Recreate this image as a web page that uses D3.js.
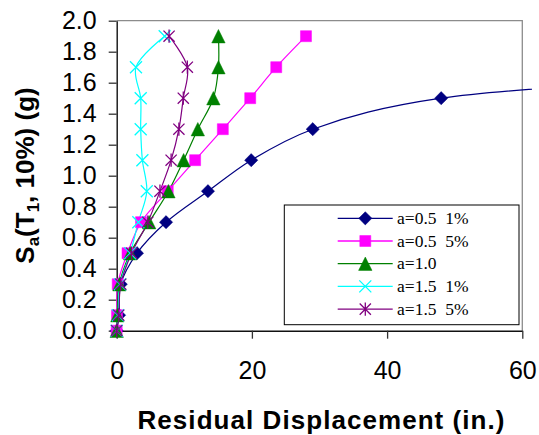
<!DOCTYPE html>
<html><head><meta charset="utf-8">
<script src="https://cdnjs.cloudflare.com/ajax/libs/d3/7.8.5/d3.min.js"></script>
<style>
html,body{margin:0;padding:0;background:#fff;}
svg{display:block;}
</style></head>
<body>
<div id="chart"></div>
<script>
// ---- data ----
const seriesNames = ["a=0.5  1%", "a=0.5  5%", "a=1.0", "a=1.5  1%", "a=1.5  5%"];
const seriesColors = ["#000080", "#FF00FF", "#008000", "#00FFFF", "#800080"];
const seriesMarkers = ["diamond", "square", "triangle", "x", "asterisk"];
const saBlue = [0, 0.1, 0.3, 0.5, 0.7, 0.9, 1.1, 1.3, 1.5, 1.7];
const dispBlue = [0, 0.35, 0.6, 3.0, 7.3, 13.5, 19.9, 29.0, 48.0, 130];
const saAll = [0, 0.1, 0.3, 0.5, 0.7, 0.9, 1.1, 1.3, 1.5, 1.7, 1.9];
const dispMagenta = [0, 0.05, 0.15, 1.6, 3.6, 7.55, 11.6, 15.7, 19.75, 23.6, 28.0];
const dispGreen = [0, 0.1, 0.4, 2.0, 4.8, 7.65, 9.9, 12.0, 14.3, 15.05, 15.05];
const dispCyan = [0, 0.2, 0.5, 2.0, 3.2, 4.45, 3.8, 3.55, 3.55, 2.85, 7.1];
const dispPurple = [0, 0.3, 0.6, 2.2, 4.6, 6.4, 8.05, 9.2, 9.85, 10.45, 7.75];
const xTicks = [0, 20, 40, 60];
const yTicks = [0, 0.2, 0.4, 0.6, 0.8, 1.0, 1.2, 1.4, 1.6, 1.8, 2.0];

const seriesX = [dispBlue, dispMagenta, dispGreen, dispCyan, dispPurple];
const seriesY = [saBlue, saAll, saAll, saAll, saAll];
const series = seriesNames.map((n, i) => ({
  name: n, color: seriesColors[i], marker: seriesMarkers[i],
  pts: seriesX[i].map((x, j) => ({x: x, y: seriesY[i][j]}))
}));

// ---- layout ----
const W = 539, H = 435;
const L = 116.7, R = 522.3, T = 20.7, B = 330.7;
const svg = d3.select("#chart").append("svg").attr("width", W).attr("height", H);
const x = d3.scaleLinear().domain([0, 60]).range([L, R]);
const y = d3.scaleLinear().domain([0, 2.0]).range([B, T]);

// frame (gray top/right)
svg.append("path").attr("d", `M${L},${T}H${R}V${B}`).attr("fill", "none")
  .attr("stroke", "#8c8c8c").attr("stroke-width", 1.3);

// axes
const yAxis = d3.axisLeft(y).tickValues(yTicks).tickFormat(d3.format(".1f"))
  .tickSize(8).tickSizeOuter(0).tickPadding(12);
const xAxis = d3.axisBottom(x).tickValues(xTicks).tickFormat(d3.format("d"))
  .tickSize(8).tickSizeOuter(0).tickPadding(23);
const gy = svg.append("g").attr("transform", `translate(${L},0)`).call(yAxis);
const gx = svg.append("g").attr("transform", `translate(0,${B})`).call(xAxis);
[gx, gy].forEach(g => {
  g.selectAll("path.domain").attr("stroke", "#111").attr("stroke-width", 1.4);
  g.selectAll(".tick line").attr("stroke", "#333").attr("stroke-width", 1.3);
  g.selectAll("text").attr("font-family", "Liberation Sans, Arial, sans-serif")
    .attr("font-size", 25).attr("fill", "#000");
});

// clip
svg.append("clipPath").attr("id", "clip").append("rect")
  .attr("x", 0).attr("y", 0).attr("width", 532).attr("height", H);

const line = d3.line().x(d => x(d.x)).y(d => y(d.y)).curve(d3.curveCatmullRom.alpha(0.5));

function markerPath(type) {
  const p = d3.path();
  if (type === "diamond") { const s = 6.6; p.moveTo(0,-s); p.lineTo(s,0); p.lineTo(0,s); p.lineTo(-s,0); p.closePath(); }
  else if (type === "square") { const s = 5.5; p.rect(-s,-s,2*s,2*s); }
  else if (type === "triangle") { const w = 6.7, h = 6.7; p.moveTo(0,-h); p.lineTo(w,h); p.lineTo(-w,h); p.closePath(); }
  else if (type === "x") { const s = 6; p.moveTo(-s,-s); p.lineTo(s,s); p.moveTo(s,-s); p.lineTo(-s,s); }
  else if (type === "asterisk") { const s = 5.6; p.moveTo(-s,-s); p.lineTo(s,s); p.moveTo(s,-s); p.lineTo(-s,s); p.moveTo(0,-s-1); p.lineTo(0,s+1); }
  return p.toString();
}
function drawMarker(g, type, color) {
  const filled = (type === "diamond" || type === "square" || type === "triangle");
  g.append("path").attr("d", markerPath(type))
    .attr("fill", filled ? color : "none")
    .attr("stroke", color).attr("stroke-width", filled ? 0.5 : 1.3);
}

const plot = svg.append("g").attr("clip-path", "url(#clip)");
series.forEach(s => {
  plot.append("path").datum(s.pts).attr("d", line).attr("fill", "none")
    .attr("stroke", s.color).attr("stroke-width", 1.2);
});
series.forEach(s => {
  s.pts.filter(d => d.x <= 60).forEach(d => {
    const g = plot.append("g").attr("transform", `translate(${x(d.x)},${y(d.y)})`);
    drawMarker(g, s.marker, s.color);
  });
});

// legend
const lg = svg.append("g");
lg.append("rect").attr("x", 284.3).attr("y", 205).attr("width", 234.7).attr("height", 119.7)
  .attr("fill", "#fff").attr("stroke", "#000").attr("stroke-width", 1);
series.forEach((s, i) => {
  const cy = 218.3 + i * 22.7;
  lg.append("line").attr("x1", 337.7).attr("x2", 392.7).attr("y1", cy).attr("y2", cy)
    .attr("stroke", s.color).attr("stroke-width", 1.3);
  const g = lg.append("g").attr("transform", `translate(365.3,${cy})`);
  drawMarker(g, s.marker, s.color);
  lg.append("text").attr("x", 397).attr("y", cy + 5.5)
    .attr("font-family", "Liberation Serif, Times New Roman, serif").attr("font-size", 17.5)
    .attr("xml:space", "preserve").style("white-space", "pre")
    .text(s.name);
});

// axis titles
svg.append("text").attr("x", 321).attr("y", 429).attr("text-anchor", "middle")
  .attr("font-family", "Liberation Sans, Arial, sans-serif").attr("font-weight", "bold")
  .attr("font-size", 26).attr("textLength", 367).attr("lengthAdjust", "spacing")
  .text("Residual Displacement (in.)");

const yt = svg.append("text").attr("transform", "translate(34,175.5) rotate(-90)")
  .attr("text-anchor", "middle")
  .attr("font-family", "Liberation Sans, Arial, sans-serif").attr("font-weight", "bold")
  .attr("font-size", 26);
yt.append("tspan").text("S");
yt.append("tspan").attr("font-size", 17).attr("dy", 5).text("a");
yt.append("tspan").attr("dy", -5).text("(T");
yt.append("tspan").attr("font-size", 17).attr("dy", 5).text("1");
yt.append("tspan").attr("dy", -5).text(", 10%) (g)");
</script>
</body></html>
